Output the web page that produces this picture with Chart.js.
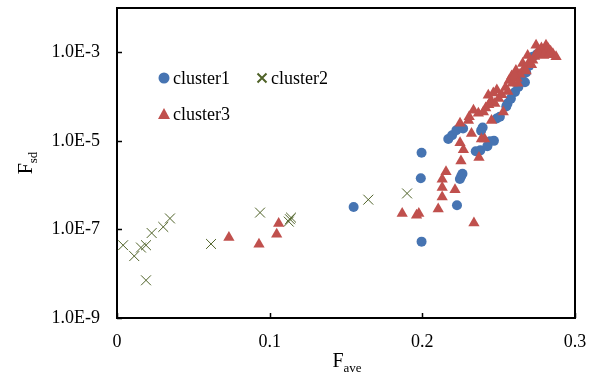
<!DOCTYPE html>
<html>
<head>
<meta charset="utf-8">
<script src="https://cdn.jsdelivr.net/npm/chart.js@4/dist/chart.umd.min.js"></script>
<style>
  html, body { margin: 0; padding: 0; background: #fff; }
  #wrap { width: 599px; height: 374px; }
</style>
</head>
<body>
<div id="wrap"><canvas id="scatterChart" width="599" height="374"></canvas></div>
<script>
var seriesNames = ['cluster1', 'cluster2', 'cluster3'];

// cluster1 (circles): [Fave, Fsd]
var cluster1 = [
    [0.155, 3.2e-7], [0.1995, 5.4e-6], [0.199, 1.43e-6], [0.1995, 5.3e-8],
    [0.2227, 3.5e-7], [0.2246, 1.38e-6], [0.2255, 1.6e-6], [0.2263, 1.8e-6],
    [0.217, 1.1e-5], [0.2195, 1.34e-5], [0.2223, 1.74e-5], [0.2267, 1.9e-5],
    [0.2395, 2.0e-5], [0.2385, 1.7e-5], [0.235, 5.8e-6], [0.238, 6.1e-6],
    [0.2426, 7.6e-6], [0.2443, 9.8e-6], [0.2469, 1.0e-5], [0.2487, 3.2e-5],
    [0.2508, 3.5e-5], [0.2558, 7.0e-5], [0.2607, 1.27e-4], [0.2629, 1.65e-4],
    [0.2672, 2.1e-4], [0.2723, 7.9e-4], [0.255, 6.0e-5], [0.258, 9.0e-5],
    [0.265, 2.5e-4], [0.268, 3.5e-4], [0.27, 5.0e-4], [0.275, 9.0e-4], [0.278, 1.1e-3]
];

// cluster2 (crosses)
var cluster2 = [
    [0.004, 4.4e-8], [0.0113, 2.5e-8], [0.0157, 3.9e-8], [0.019, 4.4e-8],
    [0.019, 7.1e-9], [0.0227, 8.3e-8], [0.0303, 1.14e-7], [0.0347, 1.77e-7],
    [0.0616, 4.7e-8], [0.0937, 2.4e-7], [0.1125, 1.5e-7], [0.1133, 1.7e-7],
    [0.114, 1.85e-7], [0.1646, 4.7e-7], [0.190, 6.5e-7]
];

// cluster3 (triangles)
var cluster3 = [
    [0.0733, 6.6e-8], [0.093, 4.6e-8], [0.1046, 7.8e-8], [0.1059, 1.36e-7],
    [0.1868, 2.3e-7], [0.1962, 2.1e-7], [0.1977, 2.3e-7], [0.2104, 2.9e-7],
    [0.213, 5.4e-7], [0.213, 8.9e-7], [0.213, 1.35e-6], [0.2155, 2.0e-6],
    [0.2214, 7.9e-7], [0.2338, 1.4e-7], [0.2253, 3.5e-6], [0.2269, 6.3e-6],
    [0.2247, 9.1e-6], [0.2322, 1.46e-5], [0.2371, 4.2e-6], [0.2408, 1.1e-5],
    [0.2387, 1.1e-5], [0.2247, 2.5e-5], [0.2302, 2.9e-5], [0.2335, 4.9e-5],
    [0.2367, 4.2e-5], [0.24, 4.5e-5], [0.2453, 2.9e-5], [0.253, 4.5e-5],
    [0.2307, 3.5e-5], [0.2432, 1.07e-4], [0.2488, 1.4e-4], [0.2569, 2.3e-4],
    [0.2613, 3.9e-4], [0.2657, 5.6e-4], [0.269, 8.5e-4], [0.2723, 6.6e-4],
    [0.2745, 1.44e-3], [0.281, 1.44e-3], [0.2855, 9.3e-4], [0.2876, 7.9e-4],
    [0.245, 8.0e-5], [0.2475, 7.0e-5], [0.25, 9.0e-5], [0.252, 1.1e-4],
    [0.2545, 1.6e-4], [0.256, 1.3e-4], [0.259, 2.0e-4], [0.262, 2.6e-4],
    [0.264, 3.2e-4], [0.2665, 4.2e-4], [0.268, 3.8e-4], [0.27, 6.0e-4],
    [0.2715, 5.2e-4], [0.2735, 8.0e-4], [0.276, 1.1e-3], [0.278, 1.25e-3],
    [0.28, 1.0e-3], [0.2825, 1.2e-3], [0.284, 1.05e-3], [0.2765, 9.0e-4],
    [0.2795, 8.5e-4], [0.283, 8.8e-4], [0.2415, 5.5e-5], [0.2435, 6.5e-5],
    [0.2465, 1.2e-4], [0.2585, 2.9e-4], [0.2605, 3.0e-4], [0.2625, 2.0e-4]
];

var xTicks = [0, 0.1, 0.2, 0.3];
var xTickLabels = ['0', '0.1', '0.2', '0.3'];
var yTicks = [1e-9, 1e-7, 1e-5, 1e-3];
var yTickLabels = ['1.0E-9', '1.0E-7', '1.0E-5', '1.0E-3'];

var SERIF = '"Liberation Serif", "Times New Roman", serif';
var colBlue = '#4674B2';
var colGreen = '#4F6228';
var colRed = '#C0504D';

function toPoints(arr) {
    return arr.map(function (p) { return { x: p[0], y: p[1] }; });
}

// frame, inward tick marks, axis titles and legend
var decorPlugin = {
    id: 'decor',
    beforeDatasetsDraw: function (chart) {
        var ctx = chart.ctx, a = chart.chartArea;
        var xs = chart.scales.x, ys = chart.scales.y;
        ctx.save();
        ctx.strokeStyle = '#000';
        ctx.lineWidth = 1.5;
        ctx.beginPath();
        xTicks.forEach(function (v) {
            var px = Math.round(xs.getPixelForValue(v)) + 0.5;
            ctx.moveTo(px, a.bottom);
            ctx.lineTo(px, a.bottom - 5);
        });
        yTicks.forEach(function (v) {
            var py = Math.round(ys.getPixelForValue(v)) + 0.5;
            ctx.moveTo(a.left, py);
            ctx.lineTo(a.left + 5, py);
        });
        ctx.stroke();
        ctx.lineWidth = 2;
        ctx.strokeRect(a.left, a.top, a.right - a.left, a.bottom - a.top);
        ctx.restore();
    },
    afterDraw: function (chart) {
        var ctx = chart.ctx, a = chart.chartArea;
        ctx.save();
        ctx.fillStyle = '#000';
        ctx.textBaseline = 'alphabetic';
        ctx.textAlign = 'left';

        // x title: F_ave
        ctx.font = '20px ' + SERIF;
        var wF = ctx.measureText('F').width;
        ctx.font = '13px ' + SERIF;
        var wSub = ctx.measureText('ave').width;
        var x0 = (a.left + a.right) / 2 - (wF + wSub) / 2 + 1;
        ctx.font = '20px ' + SERIF;
        ctx.fillText('F', x0, 367);
        ctx.font = '13px ' + SERIF;
        ctx.fillText('ave', x0 + wF, 372);

        // y title: F_sd rotated
        ctx.translate(32, (a.top + a.bottom) / 2);
        ctx.rotate(-Math.PI / 2);
        ctx.font = '20px ' + SERIF;
        wF = ctx.measureText('F').width;
        ctx.font = '13px ' + SERIF;
        wSub = ctx.measureText('sd').width;
        x0 = -(wF + wSub) / 2;
        ctx.font = '20px ' + SERIF;
        ctx.fillText('F', x0, 0);
        ctx.font = '13px ' + SERIF;
        ctx.fillText('sd', x0 + wF, 5);
        ctx.restore();

        // legend
        ctx.save();
        ctx.font = '18px ' + SERIF;
        ctx.textBaseline = 'middle';
        ctx.fillStyle = '#000';
        var items = [
            { x: 164, y: 78, style: 'circle', color: colBlue },
            { x: 262, y: 78, style: 'cross', color: colGreen },
            { x: 164, y: 114, style: 'triangle', color: colRed }
        ];
        items.forEach(function (it, i) {
            ctx.fillStyle = it.color;
            ctx.strokeStyle = it.color;
            if (it.style === 'circle') {
                ctx.beginPath();
                ctx.arc(it.x, it.y, 5.5, 0, Math.PI * 2);
                ctx.fill();
            } else if (it.style === 'cross') {
                ctx.lineWidth = 2;
                ctx.beginPath();
                ctx.moveTo(it.x - 4.5, it.y - 4.5); ctx.lineTo(it.x + 4.5, it.y + 4.5);
                ctx.moveTo(it.x - 4.5, it.y + 4.5); ctx.lineTo(it.x + 4.5, it.y - 4.5);
                ctx.stroke();
            } else {
                ctx.beginPath();
                ctx.moveTo(it.x, it.y - 6);
                ctx.lineTo(it.x + 6, it.y + 5);
                ctx.lineTo(it.x - 6, it.y + 5);
                ctx.closePath();
                ctx.fill();
            }
            ctx.fillStyle = '#000';
            ctx.fillText(seriesNames[i], it.x + 9, it.y + 1);
        });
        ctx.restore();
    }
};

var scatterChart = new Chart(document.getElementById('scatterChart'), {
    type: 'scatter',
    data: {
        datasets: [
            {
                label: seriesNames[0],
                data: toPoints(cluster1),
                pointStyle: 'circle',
                pointRadius: 5,
                backgroundColor: colBlue,
                borderColor: colBlue,
                borderWidth: 0,
                order: 2
            },
            {
                label: seriesNames[1],
                data: toPoints(cluster2),
                pointStyle: 'crossRot',
                pointRadius: 7,
                backgroundColor: colGreen,
                borderColor: colGreen,
                borderWidth: 1,
                order: 1
            },
            {
                label: seriesNames[2],
                data: toPoints(cluster3),
                pointStyle: 'triangle',
                pointRadius: 6.5,
                backgroundColor: colRed,
                borderColor: colRed,
                borderWidth: 0,
                order: 0
            }
        ]
    },
    options: {
        responsive: false,
        animation: false,
        events: [],
        layout: { padding: { top: 8, right: 24, left: 0, bottom: 0 } },
        plugins: {
            legend: { display: false },
            tooltip: { enabled: false },
            title: { display: false }
        },
        scales: {
            x: {
                type: 'linear',
                min: 0,
                max: 0.3,
                grid: { display: false, drawTicks: false },
                border: { display: false },
                afterBuildTicks: function (scale) {
                    scale.ticks = xTicks.map(function (v) { return { value: v }; });
                },
                afterFit: function (scale) {
                    scale.height = 56;
                    scale.paddingLeft = 0;
                    scale.paddingRight = 0;
                },
                ticks: {
                    autoSkip: false,
                    maxRotation: 0,
                    padding: 13,
                    color: '#000',
                    font: { family: SERIF, size: 18 },
                    callback: function (v, i) { return xTickLabels[i]; }
                }
            },
            y: {
                type: 'logarithmic',
                min: 1e-9,
                max: 1e-2,
                grid: { display: false, drawTicks: false },
                border: { display: false },
                afterBuildTicks: function (scale) {
                    scale.ticks = yTicks.map(function (v) { return { value: v }; });
                },
                afterFit: function (scale) {
                    scale.width = 117;
                    scale.paddingTop = 0;
                    scale.paddingBottom = 0;
                },
                ticks: {
                    autoSkip: false,
                    padding: 17,
                    color: '#000',
                    font: { family: SERIF, size: 18 },
                    callback: function (v, i) { return yTickLabels[i]; }
                }
            }
        }
    },
    plugins: [decorPlugin]
});
</script>
</body>
</html>
